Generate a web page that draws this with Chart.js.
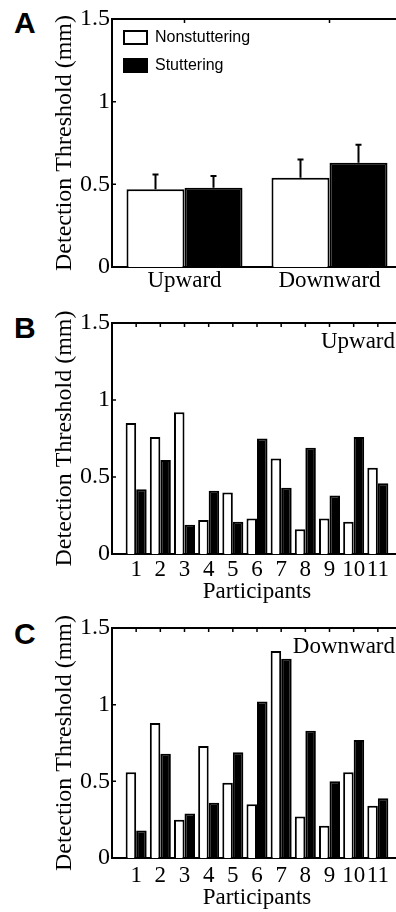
<!DOCTYPE html>
<html>
<head>
<meta charset="utf-8">
<script src="https://cdn.jsdelivr.net/npm/chart.js@4.4.1/dist/chart.umd.min.js"></script>
<style>
  html, body { margin: 0; padding: 0; background: #fff; overflow: hidden; width: 396px; height: 912px; }
  canvas { position: absolute; left: 0; }
  .letter { position: absolute; left: 14px; line-height: 1; font: bold 30px "Liberation Sans", Arial, sans-serif; color: #000; }
</style>
</head>
<body>
<div class="letter" style="top:6px">A</div>
<div class="letter" style="top:311px">B</div>
<div class="letter" style="top:617px">C</div>
<canvas id="chartA" width="410" height="300" style="top:0"></canvas>
<canvas id="chartB" width="410" height="310" style="top:300px"></canvas>
<canvas id="chartC" width="410" height="307" style="top:605px"></canvas>
<script>
// ---- data ----
const directions = ['Upward', 'Downward'];
const meanNonstuttering = [0.47, 0.54];
const meanStuttering = [0.48, 0.63];
const errNonstuttering = [0.09, 0.11];
const errStuttering = [0.07, 0.11];

const participants = [1, 2, 3, 4, 5, 6, 7, 8, 9, 10, 11];
const upNonstuttering = [0.85, 0.76, 0.92, 0.22, 0.40, 0.23, 0.62, 0.16, 0.23, 0.21, 0.56];
const upStuttering = [0.42, 0.61, 0.19, 0.41, 0.21, 0.75, 0.43, 0.69, 0.38, 0.76, 0.46];
const downNonstuttering = [0.56, 0.88, 0.25, 0.73, 0.49, 0.35, 1.35, 0.27, 0.21, 0.56, 0.34];
const downStuttering = [0.18, 0.68, 0.29, 0.36, 0.69, 1.02, 1.30, 0.83, 0.50, 0.77, 0.39];

const yTicks = [0, 0.5, 1, 1.5];

const SERIF = '"Liberation Serif", "Times New Roman", serif';
const SANS = '"Liberation Sans", Arial, sans-serif';

// frame + inward ticks, matlab style
const framePlugin = {
  id: 'frame',
  afterDatasetsDraw(chart) {
    const { ctx, chartArea: a, scales } = chart;
    ctx.save();
    ctx.strokeStyle = '#000';
    ctx.lineWidth = 2;
    ctx.beginPath();
    ctx.moveTo(a.left, a.top);
    ctx.lineTo(a.right, a.top);
    ctx.lineTo(a.right, a.bottom);
    ctx.stroke();
    ctx.lineWidth = 1.5;
    ctx.beginPath();
    scales.x.ticks.forEach((t, i) => {
      const isCat = scales.x.type === 'category';
      if (!isCat && (t.value < 1 || t.value > 11)) return;
      const x = scales.x.getPixelForValue(isCat ? i : t.value);
      ctx.moveTo(x, a.top);
      ctx.lineTo(x, a.top + 4);
    });
    scales.y.ticks.forEach(t => {
      if (t.value <= 0 || t.value >= 1.5) return;
      const y = scales.y.getPixelForValue(t.value);
      ctx.moveTo(a.left, y);
      ctx.lineTo(a.left + 4, y);
    });
    ctx.stroke();
    ctx.restore();
  }
};

// one-sided error bars for panel A
const errorBarPlugin = {
  id: 'errorBars',
  afterDatasetsDraw(chart, args, opts) {
    if (!opts.errors) return;
    const { ctx, scales } = chart;
    ctx.save();
    ctx.strokeStyle = '#000';
    ctx.lineWidth = 2;
    chart.data.datasets.forEach((ds, i) => {
      const meta = chart.getDatasetMeta(i);
      meta.data.forEach((bar, j) => {
        const top = scales.y.getPixelForValue(ds.data[j] + opts.errors[i][j]);
        ctx.beginPath();
        ctx.moveTo(bar.x, bar.y);
        ctx.lineTo(bar.x, top);
        ctx.moveTo(bar.x - 3, top);
        ctx.lineTo(bar.x + 3, top);
        ctx.stroke();
      });
    });
    ctx.restore();
  }
};

// direction label in the top right corner
const cornerTextPlugin = {
  id: 'cornerText',
  afterDraw(chart, args, opts) {
    if (!opts.text) return;
    const { ctx, chartArea: a } = chart;
    ctx.save();
    ctx.font = '23px ' + SERIF;
    ctx.fillStyle = '#000';
    ctx.textAlign = 'right';
    ctx.textBaseline = 'middle';
    ctx.fillText(opts.text, 395, a.top + 19);
    ctx.restore();
  }
};

function datasetsFor(nonVals, stutVals, xs) {
  const pts = vals => xs ? vals.map((v, i) => ({ x: xs[i], y: v })) : vals;
  return [
    {
      label: 'Nonstuttering',
      data: pts(nonVals),
      backgroundColor: '#fff',
      borderColor: '#000',
      borderWidth: 2
    },
    {
      label: 'Stuttering',
      data: pts(stutVals),
      backgroundColor: '#000',
      borderColor: '#000',
      borderWidth: 2
    }
  ];
}

function yScale() {
  return {
    min: 0,
    max: 1.5,
    afterBuildTicks: s => { s.ticks = yTicks.map(v => ({ value: v })); },
    grid: { display: false, drawTicks: false },
    border: { color: '#000', width: 2 },
    ticks: {
      color: '#000',
      padding: 2,
      font: { family: SERIF, size: 24 },
      callback: v => String(v)
    },
    title: {
      display: true,
      text: 'Detection Threshold (mm)',
      color: '#000',
      font: { family: SERIF, size: 24 },
      padding: { top: 50, bottom: 0 }
    },
    afterFit: s => { s.width = 112; }
  };
}

// Panel A - group means
new Chart(document.getElementById('chartA'), {
  type: 'bar',
  data: { labels: directions, datasets: datasetsFor(meanNonstuttering, meanStuttering) },
  options: {
    responsive: false,
    animation: false,
    categoryPercentage: 0.8,
    barPercentage: 1,
    layout: { padding: { top: 19, right: 8, left: 0, bottom: 0 } },
    plugins: {
      legend: {
        position: 'chartArea',
        align: 'start',
        // empty title only pushes the entries down from the frame
        title: { display: true, text: '', font: { size: 10 }, padding: { top: 5.5, bottom: 0 } },
        labels: {
          boxWidth: 23,
          boxHeight: 13,
          padding: 12,
          color: '#000',
          font: { family: SANS, size: 16 }
        }
      },
      tooltip: { enabled: false },
      errorBars: { errors: [errNonstuttering, errStuttering] }
    },
    scales: {
      x: {
        grid: { display: false, drawTicks: false },
        border: { color: '#000', width: 2 },
        ticks: { color: '#000', padding: 0, font: { family: SERIF, size: 23 } },
        afterFit: s => { s.height = 33; }
      },
      y: yScale()
    }
  },
  plugins: [framePlugin, errorBarPlugin]
});

// Panels B and C - individual participants
function participantChart(canvasId, nonVals, stutVals, label, pad) {
  return new Chart(document.getElementById(canvasId), {
    type: 'bar',
    data: { datasets: datasetsFor(nonVals, stutVals, participants) },
    options: {
      responsive: false,
      animation: false,
      categoryPercentage: 0.87,
      barPercentage: 1,
      layout: { padding: { top: pad.top, right: 8, left: 0, bottom: 0 } },
      plugins: {
        legend: { display: false },
        tooltip: { enabled: false },
        cornerText: { text: label }
      },
      scales: {
        x: {
          type: 'linear',
          min: 0,
          max: 12,
          offset: false,
          grid: { display: false, drawTicks: false },
          border: { color: '#000', width: 2 },
          ticks: {
            stepSize: 1,
            autoSkip: false,
            maxRotation: 0,
            color: '#000',
            padding: pad.tick,
            font: { family: SERIF, size: 23 },
            callback: v => (v >= 1 && v <= 11 ? String(v) : '')
          },
          title: {
            display: true,
            text: 'Participants',
            color: '#000',
            font: { family: SERIF, size: 23 },
            padding: { top: 0, bottom: pad.title }
          },
          afterFit: s => { s.height = pad.axis; }
        },
        y: yScale()
      }
    },
    plugins: [framePlugin, cornerTextPlugin]
  });
}

participantChart('chartB', upNonstuttering, upStuttering, 'Upward',
  { top: 23, axis: 56, tick: 2.5, title: 4.5 });
participantChart('chartC', downNonstuttering, downStuttering, 'Downward',
  { top: 23, axis: 54, tick: 4.5, title: 0.5 });
</script>
</body>
</html>
